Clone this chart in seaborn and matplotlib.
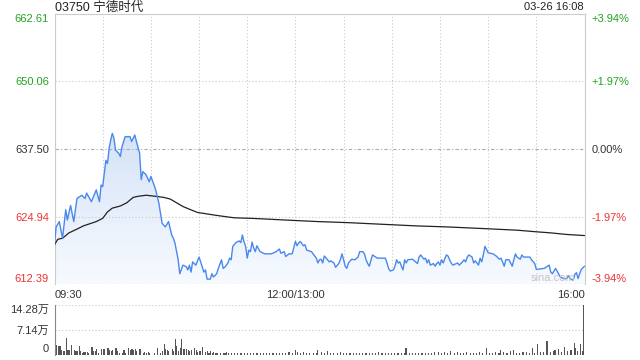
import numpy as np
import pandas as pd
import matplotlib
matplotlib.use("Agg")
import matplotlib.pyplot as plt
from matplotlib.colors import LinearSegmentedColormap
import seaborn as sns

# ---------------- data ----------------
stock_title = "03750 宁德时代"
timestamp = "03-26 16:08"
prev_close = 637.50
price_ticks = [612.39, 624.94, 637.50, 650.06, 662.61]
price_labels = ["612.39", "624.94", "637.50", "650.06", "662.61"]
pct_labels = ["-3.94%", "-1.97%", "0.00%", "+1.97%", "+3.94%"]
time_ticks = [0, 150, 330]
time_labels = ["09:30", "12:00/13:00", "16:00"]
vol_ticks = [0, 71400, 142800]
vol_labels = ["0", "7.14万", "14.28万"]
watermark = "sina.com"

price_min = [0, 1, 3, 5, 7, 8, 10, 12, 14, 17, 19, 20, 23, 26, 28, 29, 30, 32, 33, 34,
             35, 36, 37, 38, 40, 41, 42, 44, 47, 48, 50, 51, 53, 54, 55, 57, 59, 60, 62, 63,
             65, 67, 69, 71, 73, 74, 75, 77, 78, 80, 82, 83, 84, 85, 86, 88, 90, 91, 93, 94,
             95, 97, 98, 99, 101, 102, 104, 105, 106, 108, 109, 110, 111, 113, 115, 116, 117, 118, 119, 120,
             121, 122, 123, 124, 125, 126, 128, 131, 135, 138, 140, 141, 143, 144, 146, 148, 150, 151, 152, 153,
             155, 156, 157, 160, 161, 163, 164, 165, 166, 167, 168, 170, 171, 172, 174, 175, 177, 178, 179, 180,
             181, 182, 183, 185, 187, 189, 190, 192, 193, 194, 195, 196, 198, 201, 204, 206, 207, 208, 209, 211,
             212, 213, 214, 215, 216, 217, 218, 219, 220, 223, 226, 227, 228, 230, 231, 232, 233, 234, 236, 237,
             238, 239, 240, 241, 242, 244, 245, 246, 247, 248, 251, 252, 254, 255, 256, 257, 258, 260, 261, 262,
             264, 265, 266, 267, 268, 270, 273, 275, 277, 278, 279, 280, 281, 283, 284, 285, 286, 287, 288, 290,
             291, 292, 296, 297, 299, 300, 305, 307, 308, 309, 310, 312, 314, 315, 317, 319, 320, 321, 323, 324,
             325, 326, 327, 328, 330]
price_val = [619.7, 623.0, 624.0, 620.9, 626.2, 624.3, 627.0, 624.0, 628.3, 628.9, 628.3, 629.3, 627.7, 629.9, 627.7, 630.8, 630.5, 635.4, 634.8, 637.6,
             639.2, 640.4, 639.5, 637.3, 636.7, 636.1, 637.9, 639.8, 639.8, 638.9, 640.1, 638.9, 636.7, 631.8, 633.3, 632.7, 631.4, 632.4, 630.8, 629.9,
             627.4, 623.7, 623.0, 624.0, 621.5, 620.9, 620.0, 616.9, 614.3, 615.9, 615.6, 615.0, 615.9, 614.6, 616.5, 615.9, 617.4, 616.5, 614.6, 615.0,
             613.3, 613.3, 614.3, 613.7, 614.3, 615.3, 616.9, 615.3, 615.5, 616.3, 617.2, 616.9, 619.4, 620.1, 620.4, 620.1, 621.5, 620.2, 619.4, 617.2,
             618.7, 618.4, 620.2, 619.1, 618.4, 619.5, 618.4, 618.0, 618.0, 618.4, 618.9, 618.1, 618.4, 617.5, 618.0, 618.0, 620.3, 619.5, 620.0, 620.3,
             619.5, 619.7, 618.7, 618.4, 618.0, 617.2, 616.3, 616.9, 617.0, 616.3, 617.6, 616.9, 616.5, 616.7, 616.3, 615.5, 616.2, 616.9, 618.0, 616.9,
             615.7, 615.3, 616.3, 617.0, 616.9, 617.4, 618.4, 618.4, 618.0, 616.9, 616.2, 615.7, 617.8, 617.2, 617.2, 617.2, 616.3, 615.3, 614.8, 615.0,
             615.7, 616.9, 616.3, 616.5, 615.7, 615.0, 616.9, 616.3, 616.9, 617.0, 616.2, 617.4, 617.8, 617.0, 617.2, 616.3, 616.9, 615.9, 616.2, 615.7,
             616.2, 616.5, 615.9, 616.9, 616.3, 617.8, 617.6, 616.9, 616.3, 615.9, 616.3, 615.9, 616.5, 616.9, 616.5, 617.4, 617.8, 617.4, 616.3, 616.7,
             615.9, 617.2, 616.5, 617.8, 619.4, 618.2, 618.0, 617.6, 617.0, 617.2, 616.5, 615.7, 616.9, 616.9, 616.3, 615.7, 616.9, 618.0, 617.4, 617.0,
             617.8, 617.4, 617.4, 616.9, 616.2, 615.1, 615.3, 615.7, 615.9, 614.6, 614.3, 615.3, 614.2, 613.7, 613.4, 613.4, 614.0, 613.4, 613.1, 614.2,
             614.5, 613.4, 614.3, 615.1, 615.7]

avg_min = [0, 2, 5, 9, 14, 18, 22, 26, 30, 33, 36, 41, 45, 49, 52, 57, 63, 68, 72, 76,
           80, 84, 89, 102, 112, 123, 143, 164, 183, 204, 225, 245, 267, 288, 300, 309, 319, 330]
avg_val = [619.7, 620.7, 620.9, 621.9, 622.6, 623.2, 623.6, 624.0, 624.6, 625.8, 626.5, 626.9, 627.5, 628.5, 628.7, 628.9, 628.7, 628.5, 628.2, 627.5,
           626.8, 626.3, 625.7, 625.1, 624.7, 624.6, 624.3, 624.0, 623.8, 623.5, 623.2, 623.0, 622.7, 622.4, 622.1, 621.9, 621.6, 621.4]

vol_min = [0, 1, 2, 3, 4, 5, 6, 7, 8, 9, 10, 12, 13, 14, 15, 16, 17, 18, 19, 20,
           21, 23, 24, 25, 26, 27, 29, 30, 31, 33, 34, 35, 36, 38, 39, 40, 42, 43, 44, 46,
           47, 48, 49, 50, 51, 53, 55, 56, 57, 58, 59, 62, 64, 66, 67, 68, 69, 70, 71, 73,
           74, 75, 76, 77, 78, 79, 80, 81, 82, 83, 84, 85, 87, 88, 89, 90, 91, 92, 94, 95,
           96, 97, 98, 99, 100, 101, 103, 105, 106, 107, 108, 110, 112, 114, 116, 118, 120, 122, 124, 126,
           128, 130, 132, 134, 136, 138, 140, 142, 144, 146, 148, 150, 151, 153, 155, 157, 159, 161, 163, 164,
           166, 168, 170, 172, 174, 176, 178, 180, 182, 184, 186, 188, 190, 192, 194, 196, 198, 200, 202, 204,
           206, 208, 210, 212, 214, 216, 218, 219, 221, 223, 225, 227, 229, 231, 233, 235, 237, 239, 241, 243,
           245, 247, 249, 251, 253, 255, 257, 259, 261, 263, 265, 267, 269, 271, 273, 275, 277, 278, 280, 282,
           284, 286, 288, 290, 292, 294, 296, 298, 299, 301, 303, 305, 307, 309, 311, 312, 314, 316, 318, 320,
           322, 324, 325, 326, 328, 329, 330]
vol_val = [130000, 28600, 23800, 25700, 12400, 9500, 9500, 47600, 12400, 14300, 28600, 14300, 9500, 9500, 25700, 11400, 4800, 7600, 6700, 6700,
           4800, 22800, 9500, 9500, 16200, 4800, 16200, 16200, 16200, 19000, 12400, 9500, 12400, 19000, 9500, 2900, 4800, 14300, 4800, 19000,
           14300, 16200, 12400, 16200, 9500, 16200, 4800, 6700, 4800, 7600, 2900, 2900, 19000, 4800, 9500, 31400, 16200, 12400, 9500, 16200,
           9500, 44700, 25700, 9500, 19000, 43800, 16200, 16200, 16200, 14300, 9500, 12400, 19000, 12400, 6700, 9500, 9500, 21900, 6700, 9500,
           4800, 9500, 4800, 8000, 4800, 2900, 4800, 2900, 2900, 6700, 4800, 3800, 2900, 4800, 2900, 3800, 2900, 4800, 2900, 3800,
           5700, 2900, 3800, 2900, 4800, 2900, 3800, 2900, 4800, 6700, 4800, 12400, 6700, 4800, 6700, 3800, 5700, 4800, 3800, 14300,
           6700, 4800, 9500, 5700, 3800, 5700, 6700, 3800, 4800, 2900, 3800, 5700, 3800, 2900, 4800, 3800, 2900, 4800, 6700, 3800,
           4800, 2900, 5700, 4800, 3800, 4800, 2900, 19000, 4800, 3800, 2900, 4800, 3800, 5700, 2900, 4800, 6700, 7600, 4800, 8600,
           5700, 9500, 4800, 6700, 5700, 4800, 6700, 3800, 5700, 4800, 6700, 4800, 19000, 4800, 3800, 8600, 4800, 14300, 6700, 4800,
           9500, 12400, 5700, 4800, 8600, 6700, 5700, 19000, 5700, 31400, 6700, 8600, 40000, 6700, 9500, 12400, 16200, 8600, 21900, 9500,
           12400, 33300, 19000, 9500, 31400, 9500, 142800]

# ---------------- style ----------------
sns.set_style("white")
plt.rcParams["font.family"] = ["Liberation Sans", "Noto Sans CJK SC", "DejaVu Sans"]
plt.rcParams["axes.unicode_minus"] = False

GREEN = "#22a322"
RED = "#ee3333"
DARK = "#333333"
GRID = "#c8c8c8"
label_colors = [RED, RED, DARK, GREEN, GREEN]

fig = plt.figure(figsize=(6.4, 3.6), dpi=100)
ax = fig.add_axes([54.5 / 640, 1 - 284 / 360, 530 / 640, 270 / 360])
axv = fig.add_axes([54.5 / 640, 1 - 354.5 / 360, 530 / 640, 49.5 / 360])

df = pd.DataFrame({"minute": price_min, "price": price_val})
dfa = pd.DataFrame({"minute": avg_min, "avg": avg_val})
dfv = pd.DataFrame({"minute": vol_min, "volume": vol_val})

ymin, ymax = price_ticks[0], price_ticks[-1]
xmin, xmax = time_ticks[0], time_ticks[-1]

# gradient area under price line
poly = ax.fill_between(df["minute"], df["price"], ymin, color="none", lw=0)
cmap = LinearSegmentedColormap.from_list("g", ["#f7faff", "#d5e3f7"])
grad = np.linspace(1, 0, 256).reshape(-1, 1)
im = ax.imshow(grad, cmap=cmap, aspect="auto", origin="upper",
               extent=[xmin, xmax, ymin, df["price"].max()], zorder=1)
im.set_clip_path(poly.get_paths()[0], transform=ax.transData)

sns.lineplot(data=df, x="minute", y="price", ax=ax, color="#4a88ec", lw=1.0, zorder=4)
sns.lineplot(data=dfa, x="minute", y="avg", ax=ax, color="#222222", lw=0.9, zorder=3)

ax.set_xlim(xmin, xmax)
ax.set_ylim(ymin, ymax)
ax.set_xlabel("")
ax.set_ylabel("")

ax.set_xticks(time_ticks, time_labels)
ax.set_xticks(np.arange(xmin, xmax + 1, 30), minor=True)
ax.set_yticks(price_ticks, price_labels)
ax.grid(True, which="both", axis="x", color=GRID, ls=(0, (1, 2)), lw=0.8)
ax.grid(False, axis="y")
for v in price_ticks[1:-1]:
    if v == prev_close:
        ax.axhline(v, color="#aaaaaa", ls=(0, (3, 2, 1, 2)), lw=0.8, zorder=2)
    else:
        ax.axhline(v, color=GRID, ls=(0, (1, 2)), lw=0.8, zorder=2)
ax.tick_params(axis="both", which="both", length=0)
ax.tick_params(axis="y", pad=4, labelsize=8)
ax.tick_params(axis="x", pad=4.5, labelsize=8, labelcolor=DARK)
for lab, ha in zip(ax.get_xticklabels(), ["left", "center", "right"]):
    lab.set_ha(ha)
ylabs = ax.get_yticklabels()
for i, lab in enumerate(ylabs):
    lab.set_color(label_colors[i])
ylabs[0].set_va("bottom")
ylabs[-1].set_va("top")
for s in ["top", "left", "right"]:
    ax.spines[s].set_color("#cccccc")
    ax.spines[s].set_linewidth(0.8)
ax.spines["bottom"].set_visible(False)
ax.axhline(ymin, color=GRID, ls=(0, (1, 2)), lw=0.8, zorder=2)

ax2 = ax.twinx()
ax2.set_ylim(ymin, ymax)
ax2.set_yticks(price_ticks, pct_labels)
ax2.tick_params(axis="y", length=0, pad=5, labelsize=8)
rlabs = ax2.get_yticklabels()
for i, lab in enumerate(rlabs):
    lab.set_color(label_colors[i])
rlabs[0].set_va("bottom")
rlabs[-1].set_va("top")
for s in ax2.spines.values():
    s.set_visible(False)

ax.text(0.94, 0.022, watermark, transform=ax.transAxes, ha="center", va="center",
        fontsize=8, color="#c4c4c4", zorder=5)

fig.text(55 / 640, 1 - 7.5 / 360, stock_title, ha="left", va="center", fontsize=9, color="#222222")
fig.text(584 / 640, 1 - 7.5 / 360, timestamp, ha="right", va="center", fontsize=8, color="#222222")

# volume panel
axv.bar(dfv["minute"], dfv["volume"], width=0.7, color="#555555", lw=0)
axv.set_xlim(xmin - 0.4, xmax + 0.4)
axv.set_ylim(vol_ticks[0], vol_ticks[-1])
axv.set_xticks([])
axv.set_yticks(vol_ticks, vol_labels)
axv.grid(True, axis="y", color=GRID, ls=(0, (1, 2)), lw=0.8)
axv.tick_params(axis="y", length=0, pad=4, labelsize=8, labelcolor=DARK)
vlabs = axv.get_yticklabels()
vlabs[0].set_va("bottom")
vlabs[-1].set_va("top")
for s in ["top", "right", "bottom"]:
    axv.spines[s].set_visible(False)
axv.spines["left"].set_color("#888888")
axv.spines["left"].set_linewidth(0.8)

fig.savefig("out.png", dpi=100)
